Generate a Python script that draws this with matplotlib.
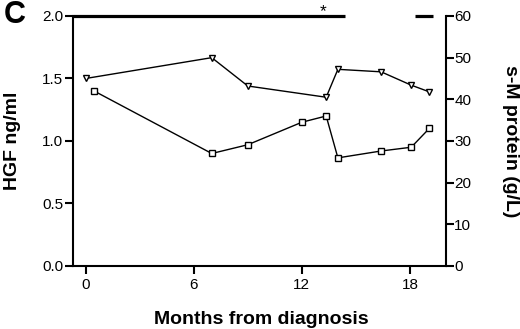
import matplotlib
matplotlib.use('Agg')
import matplotlib.pyplot as plt

plt.rcParams['font.family'] = ['Liberation Sans', 'DejaVu Sans']

# HGF (left axis, ng/ml) - squares
hgf_months = [0.47, 7, 9, 12, 13.35, 14, 16.4, 18.07, 19.07]
hgf_values = [1.40, 0.90, 0.97, 1.15, 1.20, 0.865, 0.92, 0.95, 1.10]

# s-M protein (right axis, g/L) - triangles
smp_months = [0, 7, 9, 13.35, 14, 16.4, 18.07, 19.07]
smp_values = [45.0, 50.0, 43.2, 40.5, 47.2, 46.6, 43.4, 41.8]

# treatment bars along the top
bars = [(-0.7, 14.4), (18.3, 19.3)]
star_month = 13.2

fig = plt.figure(figsize=(5.2, 3.29), dpi=100)
ax = fig.add_axes([0.1404, 0.1915, 0.7173, 0.7599])
ax2 = ax.twinx()

ax.plot(hgf_months, hgf_values, color='black', lw=1.0, marker='s', ms=5,
        mfc='white', mec='black', mew=1.0, clip_on=False, zorder=3)
ax2.plot(smp_months, smp_values, color='black', lw=1.0, marker='v', ms=4.5,
         mfc='white', mec='black', mew=1.0, clip_on=False, zorder=3)

for x0, x1 in bars:
    ax.plot([x0, x1], [2.0, 2.0], color='black', lw=2.3, clip_on=False,
            solid_capstyle='butt', zorder=4)
ax.text(star_month, 2.0, '*', ha='center', va='baseline', fontsize=12.5)

ax.set_xlim(-0.7, 20)
ax.set_ylim(0, 2.0)
ax2.set_ylim(0, 60)
ax.set_xticks([0, 6, 12, 18])
ax.set_yticks([0, 0.5, 1.0, 1.5, 2.0])
ax.set_yticklabels(['0.0', '0.5', '1.0', '1.5', '2.0'])
ax2.set_yticks(range(0, 61, 10))

for a in (ax, ax2):
    a.spines['top'].set_visible(False)
    for s in a.spines.values():
        s.set_linewidth(1.5)
ax2.spines['left'].set_visible(False)
ax2.spines['bottom'].set_visible(False)
ax.spines['right'].set_visible(False)

ax.tick_params(axis='both', direction='out', length=6, width=1.5,
               labelsize=11, pad=1)
ax.tick_params(axis='x', pad=3)
ax2.tick_params(axis='y', direction='out', length=6, width=1.5,
                labelsize=11, pad=0)

ax.set_xlabel('Months from diagnosis', fontsize=14, fontweight='bold')
ax.xaxis.set_label_coords(0.504, -0.18)
ax.set_ylabel('HGF ng/ml', fontsize=14, fontweight='bold')
ax.yaxis.set_label_coords(-0.139, 0.5)
ax2.set_ylabel('s-M protein (g/L)', fontsize=14, fontweight='bold',
               rotation=270, va='center')
ax2.yaxis.set_label_coords(1.172, 0.5)

fig.text(0.029, 0.955, 'C', fontsize=22, fontweight='bold',
         ha='center', va='center')

fig.savefig('out.png', dpi=100)
